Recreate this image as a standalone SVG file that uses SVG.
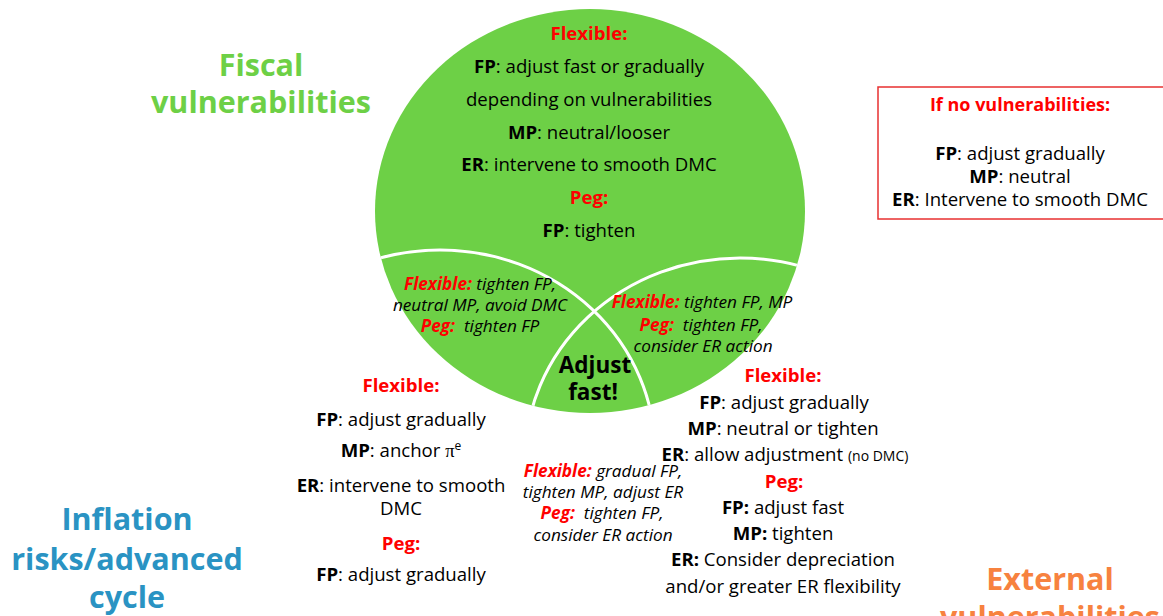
<svg xmlns="http://www.w3.org/2000/svg" width="1163" height="616" viewBox="0 0 1163 616">
<style>
text{font-family:"Open Sans","Noto Sans","Liberation Sans",sans-serif;fill:#000;text-anchor:middle}
.t{font-size:18.6px}
.b{font-weight:bold}
.r{fill:#ff0000;font-weight:bold}
.i{font-size:17.2px;font-style:italic}
.h{font-size:30.5px;font-weight:bold}
.arc{fill:none;stroke:#fff;stroke-width:3}
</style>
<defs>
<clipPath id="gc"><ellipse cx="590" cy="211" rx="215" ry="202"/></clipPath>
</defs>
<g id="fiscal-circle">
<ellipse cx="590" cy="211" rx="215" ry="202" fill="#6dd046"/>
</g>
<g id="connectors" clip-path="url(#gc)">
<ellipse class="arc" cx="440" cy="452" rx="215" ry="202"/>
<ellipse class="arc" cx="740" cy="460" rx="215" ry="202"/>
</g>
<g id="fiscal-label">
<text class="h" x="261" y="76" style="fill:#6dd046">Fiscal</text>
<text class="h" x="261" y="113" style="fill:#6dd046">vulnerabilities</text>
</g>
<g id="inflation-label">
<text class="h" x="127" y="530" style="fill:#2a93c3">Inflation</text>
<text class="h" x="127" y="570" style="fill:#2a93c3">risks/advanced</text>
<text class="h" x="127" y="608" style="fill:#2a93c3">cycle</text>
</g>
<g id="external-label">
<text class="h" x="1050" y="590" style="fill:#f7823f">External</text>
<text class="h" x="1050" y="628" style="fill:#f7823f">vulnerabilities</text>
</g>
<g id="fiscal-text">
<text class="t r" x="589" y="40">Flexible:</text>
<text class="t" x="589" y="73"><tspan class="b">FP</tspan>: adjust fast or gradually</text>
<text class="t" x="589" y="106">depending on vulnerabilities</text>
<text class="t" x="589" y="139"><tspan class="b">MP</tspan>: neutral/looser</text>
<text class="t" x="589" y="171"><tspan class="b">ER</tspan>: intervene to smooth DMC</text>
<text class="t r" x="589" y="204">Peg:</text>
<text class="t" x="589" y="237"><tspan class="b">FP</tspan>: tighten</text>
</g>
<g id="inflation-text">
<text class="t r" x="401" y="392">Flexible:</text>
<text class="t" x="401" y="426"><tspan class="b">FP</tspan>: adjust gradually</text>
<text class="t" x="401" y="457"><tspan class="b">MP</tspan>: anchor <tspan style="font-family:'Liberation Serif',serif">π</tspan><tspan font-size="12" dy="-7">e</tspan></text>
<text class="t" x="401" y="492"><tspan class="b">ER</tspan>: intervene to smooth</text>
<text class="t" x="401" y="515">DMC</text>
<text class="t r" x="401" y="550">Peg:</text>
<text class="t" x="401" y="581"><tspan class="b">FP</tspan>: adjust gradually</text>
</g>
<g id="external-text">
<text class="t r" x="783" y="382">Flexible:</text>
<text class="t" x="784" y="409"><tspan class="b">FP</tspan>: adjust gradually</text>
<text class="t" x="783" y="435"><tspan class="b">MP</tspan>: neutral or tighten</text>
<text class="t" x="785" y="461"><tspan class="b">ER</tspan>: allow adjustment <tspan font-size="14">(no DMC)</tspan></text>
<text class="t r" x="784" y="488">Peg:</text>
<text class="t" x="783" y="514"><tspan class="b">FP:</tspan> adjust fast</text>
<text class="t" x="783" y="540"><tspan class="b">MP:</tspan> tighten</text>
<text class="t" x="783" y="566"><tspan class="b">ER:</tspan> Consider depreciation</text>
<text class="t" x="783" y="593">and/or greater ER flexibility</text>
</g>
<g id="fiscal-inflation">
<text class="i" x="480" y="290"><tspan class="r">Flexible:</tspan> tighten FP,</text>
<text class="i" x="480" y="311">neutral MP, avoid DMC</text>
<text class="i" x="480" y="332"><tspan class="r">Peg:</tspan>&#160; tighten FP</text>
</g>
<g id="fiscal-external">
<text class="i" x="702" y="308"><tspan class="r">Flexible:</tspan> tighten FP, MP</text>
<text class="i" x="701" y="331"><tspan class="r">Peg:</tspan>&#160; tighten FP,</text>
<text class="i" x="703" y="352">consider ER action</text>
</g>
<g id="inflation-external">
<text class="i" x="603" y="477"><tspan class="r">Flexible:</tspan> gradual FP,</text>
<text class="i" x="603" y="498">tighten MP, adjust ER</text>
<text class="i" x="602" y="519"><tspan class="r">Peg:</tspan>&#160; tighten FP,</text>
<text class="i" x="603" y="541">consider ER action</text>
</g>
<g id="center">
<text class="b" x="595" y="373" font-size="22.5">Adjust</text>
<text class="b" x="593" y="400" font-size="22.5">fast!</text>
</g>
<g id="no-vuln-box">
<rect x="878" y="87" width="300" height="132" fill="#fff" stroke="#e83030" stroke-width="1.5"/>
<text class="r" x="1020" y="111" font-size="18">If no vulnerabilities:</text>
<text class="t" x="1020" y="160"><tspan class="b">FP</tspan>: adjust gradually</text>
<text class="t" x="1020" y="183"><tspan class="b">MP</tspan>: neutral</text>
<text class="t" x="1020" y="206"><tspan class="b">ER</tspan>: Intervene to smooth DMC</text>
</g>
</svg>
